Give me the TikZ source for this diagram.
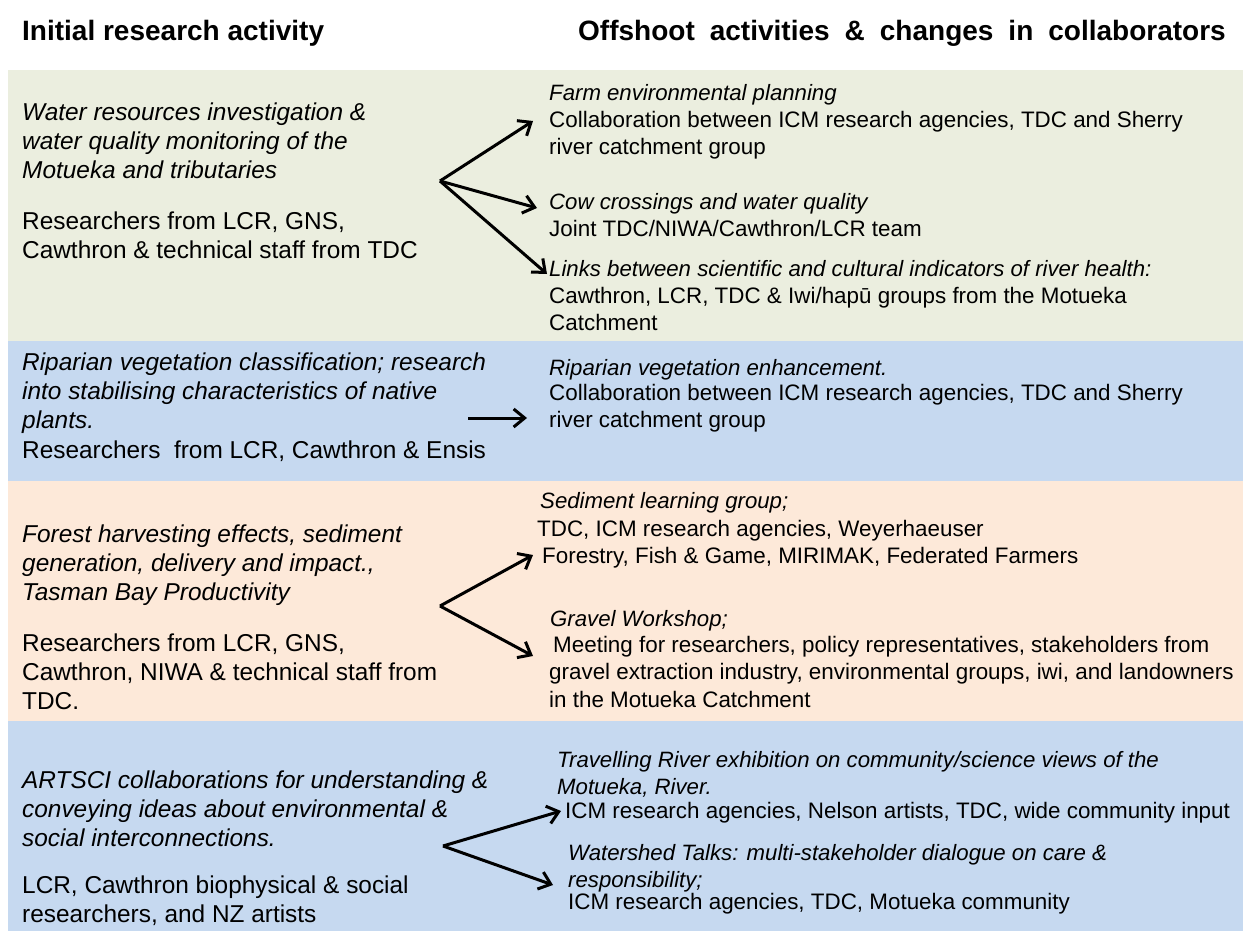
\documentclass[tikz,border=0pt]{standalone}
\usepackage{fontspec}
\setmainfont{Liberation Sans}
\usetikzlibrary{arrows.meta}
\definecolor{bandgreen}{HTML}{EBEEDF}
\definecolor{bandblue}{HTML}{C6D9F0}
\definecolor{bandpeach}{HTML}{FDE9D9}
\begin{document}
\begin{tikzpicture}[x=1pt,y=-1pt,
  heading/.style={anchor=north west,inner sep=0,font=\fontsize{28}{32}\selectfont\bfseries},
  lefttxt/.style={anchor=north west,inner sep=0,align=left,font=\fontsize{24.4}{29}\selectfont},
  leftit/.style={anchor=north west,inner sep=0,align=left,font=\fontsize{24.4}{29}\selectfont\itshape},
  righttxt/.style={anchor=north west,inner sep=0,align=left,font=\fontsize{22.4}{27.5}\selectfont},
  rightit/.style={anchor=north west,inner sep=0,align=left,font=\fontsize{22.2}{27}\selectfont\itshape},
  arr/.style={line width=3pt,-{Straight Barb[length=11pt,width=18pt,line width=3pt]}}]
\path[use as bounding box] (0,0) rectangle (1243,931);
% bands
\fill[bandgreen] (8,70) rectangle (1243,341);
\fill[bandblue] (8,341) rectangle (1243,481);
\fill[bandpeach] (8,481) rectangle (1243,721);
\fill[bandblue] (8,721) rectangle (1243,931);
% headings
\node[heading] (h1) at (22,20) {Initial research activity};
\node[heading] (h2) at (578,20) {\spaceskip=15pt Offshoot activities \& changes in collaborators};
% band 1
\node[leftit] (l1) at (22,103) {Water resources investigation \&\\water quality monitoring of the\\Motueka and tributaries};
\node[lefttxt] (l2) at (22,212) {Researchers from LCR, GNS,\\Cawthron \& technical staff from TDC};
\node[rightit] (r1t) at (549,84) {Farm environmental planning};
\node[righttxt] (r1b) at (549,111) {Collaboration between ICM research agencies, TDC and Sherry\\river catchment group};
\node[rightit] (r2t) at (549,193) {Cow crossings and water quality};
\node[righttxt] (r2b) at (549,220) {Joint TDC/NIWA/Cawthron/LCR team};
\node[rightit] (r3t) at (549,260) {Links between scientific and cultural indicators of river health:};
\node[righttxt] (r3b) at (549,287) {Cawthron, LCR, TDC \& Iwi/hapū groups from the Motueka\\Catchment};
\coordinate (v1) at (440,181);
\coordinate (t1a) at (533,121);
\coordinate (t1b) at (537,208);
\coordinate (t1c) at (547,274);
\draw[arr] (v1) -- (t1a);
\draw[arr] (v1) -- (t1b);
\draw[arr] (v1) -- (t1c);
% band 2
\node[leftit] (l3) at (22,353) {Riparian vegetation classification; research\\into stabilising characteristics of native\\plants.};
\node[lefttxt] (l4) at (22,441) {Researchers\ \ from LCR, Cawthron \& Ensis};
\node[rightit] (r4t) at (549,359) {Riparian vegetation enhancement.};
\node[righttxt] (r4b) at (549,384) {Collaboration between ICM research agencies, TDC and Sherry\\river catchment group};
\coordinate (v2) at (468,418);
\coordinate (t2) at (527,418);
\draw[arr] (v2) -- (t2);
% band 3
\node[leftit] (l5) at (22,525) {Forest harvesting effects, sediment\\generation, delivery and impact.,\\Tasman Bay Productivity};
\node[lefttxt] (l6) at (22,634) {Researchers from LCR, GNS,\\Cawthron, NIWA \& technical staff from\\TDC.};
\node[rightit] (r5t) at (540,492) {Sediment learning group;};
\node[righttxt] (r5b) at (537,520) {TDC, ICM research agencies, Weyerhaeuser\\\hspace*{5pt}Forestry, Fish \& Game, MIRIMAK, Federated Farmers};
\node[rightit] (r6t) at (550,610) {Gravel Workshop;};
\node[righttxt] (r6b) at (549,636) {\hspace*{4pt}Meeting for researchers, policy representatives, stakeholders from\\gravel extraction industry, environmental groups, iwi, and landowners\\in the Motueka Catchment};
\coordinate (v3) at (440,606);
\coordinate (t3a) at (533,555);
\coordinate (t3b) at (533,656);
\draw[arr] (v3) -- (t3a);
\draw[arr] (v3) -- (t3b);
% band 4
\node[leftit] (l7) at (22,771) {ARTSCI collaborations for understanding \&\\conveying ideas about environmental \&\\social interconnections.};
\node[lefttxt] (l8) at (22,876) {LCR, Cawthron biophysical \& social\\researchers, and NZ artists};
\node[rightit] (r7t) at (557,751) {Travelling River exhibition on community/science views of the\\Motueka, River.};
\node[righttxt] (r7b) at (565,802) {ICM research agencies, Nelson artists, TDC, wide community input};
\node[rightit] (r8t) at (568,844) {Watershed Talks: multi-stakeholder dialogue on care \&\\responsibility;};
\node[righttxt] (r8b) at (568,893) {ICM research agencies, TDC, Motueka community};
\coordinate (v4) at (443,846);
\coordinate (t4a) at (561,811);
\coordinate (t4b) at (553,885);
\draw[arr] (v4) -- (t4a);
\draw[arr] (v4) -- (t4b);
\end{tikzpicture}
\end{document}
